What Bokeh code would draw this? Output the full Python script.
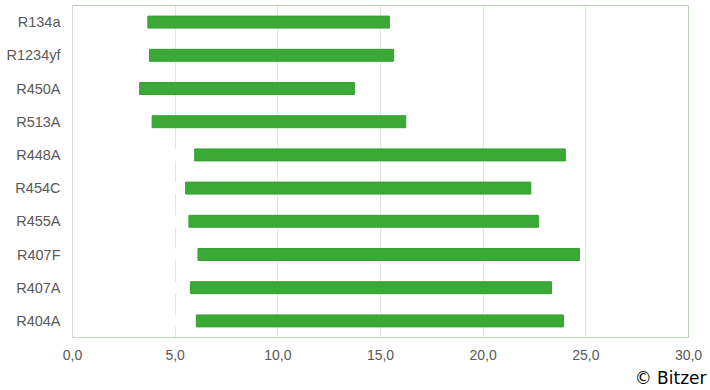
from bokeh.plotting import figure
from bokeh.models import FactorRange, FixedTicker, ColumnDataSource, Title, Range1d
from bokeh.embed import file_html
from bokeh.resources import INLINE

refrigerants = ["R134a", "R1234yf", "R450A", "R513A", "R448A",
                "R454C", "R455A", "R407F", "R407A", "R404A"]
start_vals = [3.67, 3.75, 3.27, 3.88, 5.95, 5.51, 5.67, 6.11, 5.75, 6.03]
end_vals = [15.43, 15.64, 13.73, 16.23, 24.0, 22.32, 22.69, 24.69, 23.33, 23.91]
tick_values = [0, 5, 10, 15, 20, 25, 30]
tick_labels = ["0,0", "5,0", "10,0", "15,0", "20,0", "25,0", "30,0"]
credit = "© Bitzer"

src = ColumnDataSource(dict(cat=refrigerants, start=start_vals, end=end_vals,
                            zero=[0] * len(refrigerants)))

p = figure(width=710, height=390, output_backend="svg", toolbar_location=None,
           y_range=FactorRange(factors=list(reversed(refrigerants)), range_padding=0),
           x_range=Range1d(0, 30),
           min_border_left=72, min_border_right=22, min_border_top=5, min_border_bottom=51)

# invisible base segment (white), as in a stacked bar chart
p.hbar(y="cat", left="zero", right="start", height=0.36, source=src,
       fill_color="white", line_color=None)
p.hbar(y="cat", left="start", right="end", height=0.36, source=src,
       fill_color="#3aa935", line_color="#35a030", line_width=1)

p.xaxis.ticker = FixedTicker(ticks=tick_values)
p.xaxis.major_label_overrides = {v: l for v, l in zip(tick_values, tick_labels)}
for ax in (p.xaxis, p.yaxis):
    ax.major_tick_line_color = None
    ax.minor_tick_line_color = None
    ax.major_tick_out = 0
    ax.major_tick_in = 0
    ax.minor_tick_out = 0
    ax.minor_tick_in = 0
    ax.axis_label_standoff = 0
    ax.major_label_text_font = "Liberation Sans"
    ax.major_label_text_color = "#595959"
p.xaxis.major_label_text_font_size = "14px"
p.yaxis.major_label_text_font_size = "14.5px"
p.xaxis.axis_line_color = "#c5d8bd"
p.yaxis.axis_line_color = "#d9d9d9"
p.xaxis.major_label_standoff = 12
p.yaxis.major_label_standoff = 12

p.xgrid.grid_line_color = "#e4e4e4"
p.ygrid.grid_line_color = None
p.outline_line_color = "#b9cfb1"

p.add_layout(Title(text=credit, align="right", text_font="DejaVu Sans",
                   text_font_size="17px", text_font_style="normal", text_line_height=1.0,
                   text_color="#000000", offset=-18, standoff=6), "below")

open("out.html", "w").write(file_html(p, INLINE))
